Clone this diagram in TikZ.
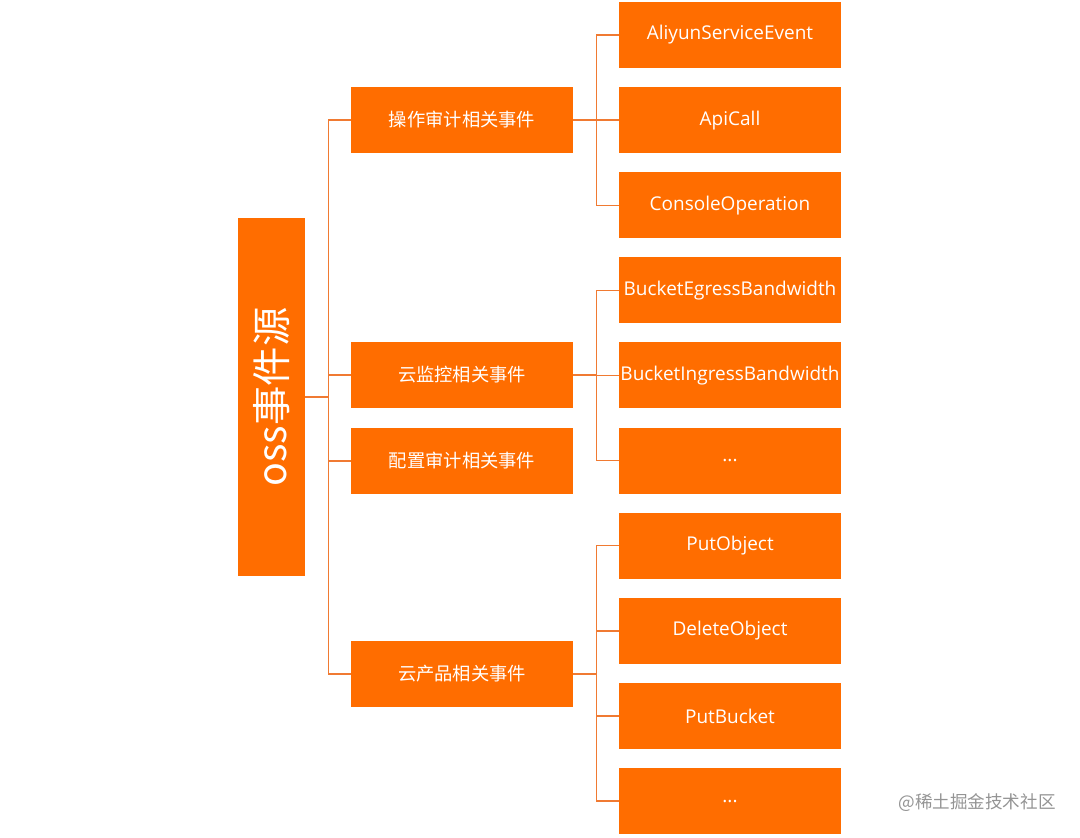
\documentclass[tikz,border=0pt]{standalone}
\usepackage{fontspec}
\setmainfont{Open Sans}
\newfontfamily\cjk{Noto Sans CJK SC}
\definecolor{ossorange}{RGB}{255,109,0}
\definecolor{linkorange}{RGB}{240,122,50}
\tikzset{
  box/.style = {
    fill=ossorange, text=white, inner sep=0pt,
    minimum width=5.55cm, minimum height=1.65cm
  },
  rootbox/.style = {box, minimum width=1.675cm, minimum height=8.95cm,
    font=\cjk\fontsize{28}{28}\selectfont},
  midbox/.style = {box, font=\cjk\fontsize{13}{15}\selectfont},
  leafbox/.style = {box, font=\fontsize{13.5}{16}\selectfont},
  link/.style = {draw=linkorange, line width=1pt}
}
\newcommand{\moreevents}{...}

\begin{document}
\begin{tikzpicture}
  \useasboundingbox (0,0) rectangle (27,-20.925);
  % root
  \node[rootbox] (root) at (6.7875,-9.925) {\rotatebox{90}{oss事件源}};
  % event groups
  \node[midbox] (audit)   at (11.55,-3.0)    {操作审计相关事件};
  \node[midbox] (monitor) at (11.55,-9.375)  {云监控相关事件};
  \node[midbox] (config)  at (11.55,-11.525) {配置审计相关事件};
  \node[midbox] (product) at (11.55,-16.85)  {云产品相关事件};
  % events
  \foreach \name/\txt [count=\i from 0] in {
      ase/AliyunServiceEvent, api/ApiCall, console/ConsoleOperation,
      egress/BucketEgressBandwidth, ingress/BucketIngressBandwidth, moremon/\moreevents,
      putobj/PutObject, delobj/DeleteObject, putbkt/PutBucket, moreprod/\moreevents}
    \node[leafbox] (\name) at (18.25,{-0.875-2.1278*\i}) {\txt};
  % root to groups
  \coordinate (rb) at ([xshift=0.575cm]root.east);
  \draw[link] (root.east) -- (rb);
  \foreach \g in {audit,monitor,config,product}
    \draw[link] (rb) |- (\g.west);
  % groups to events
  \coordinate (ab) at ([xshift=0.575cm]audit.east);
  \draw[link] (audit.east) -- (ab);
  \foreach \l in {ase,api,console}
    \draw[link] (ab) |- (\l.west);
  \coordinate (mb) at ([xshift=0.575cm]monitor.east);
  \draw[link] (monitor.east) -- (mb);
  \foreach \l in {egress,ingress,moremon}
    \draw[link] (mb) |- (\l.west);
  \coordinate (pb) at ([xshift=0.575cm]product.east);
  \draw[link] (product.east) -- (pb);
  \foreach \l in {putobj,delobj,putbkt,moreprod}
    \draw[link] (pb) |- (\l.west);
  % watermark
  \node[text=black!42, font=\cjk\fontsize{12.5}{14}\selectfont] (mark)
    at (24.425,-20.075) {@稀土掘金技术社区};
\end{tikzpicture}
\end{document}
